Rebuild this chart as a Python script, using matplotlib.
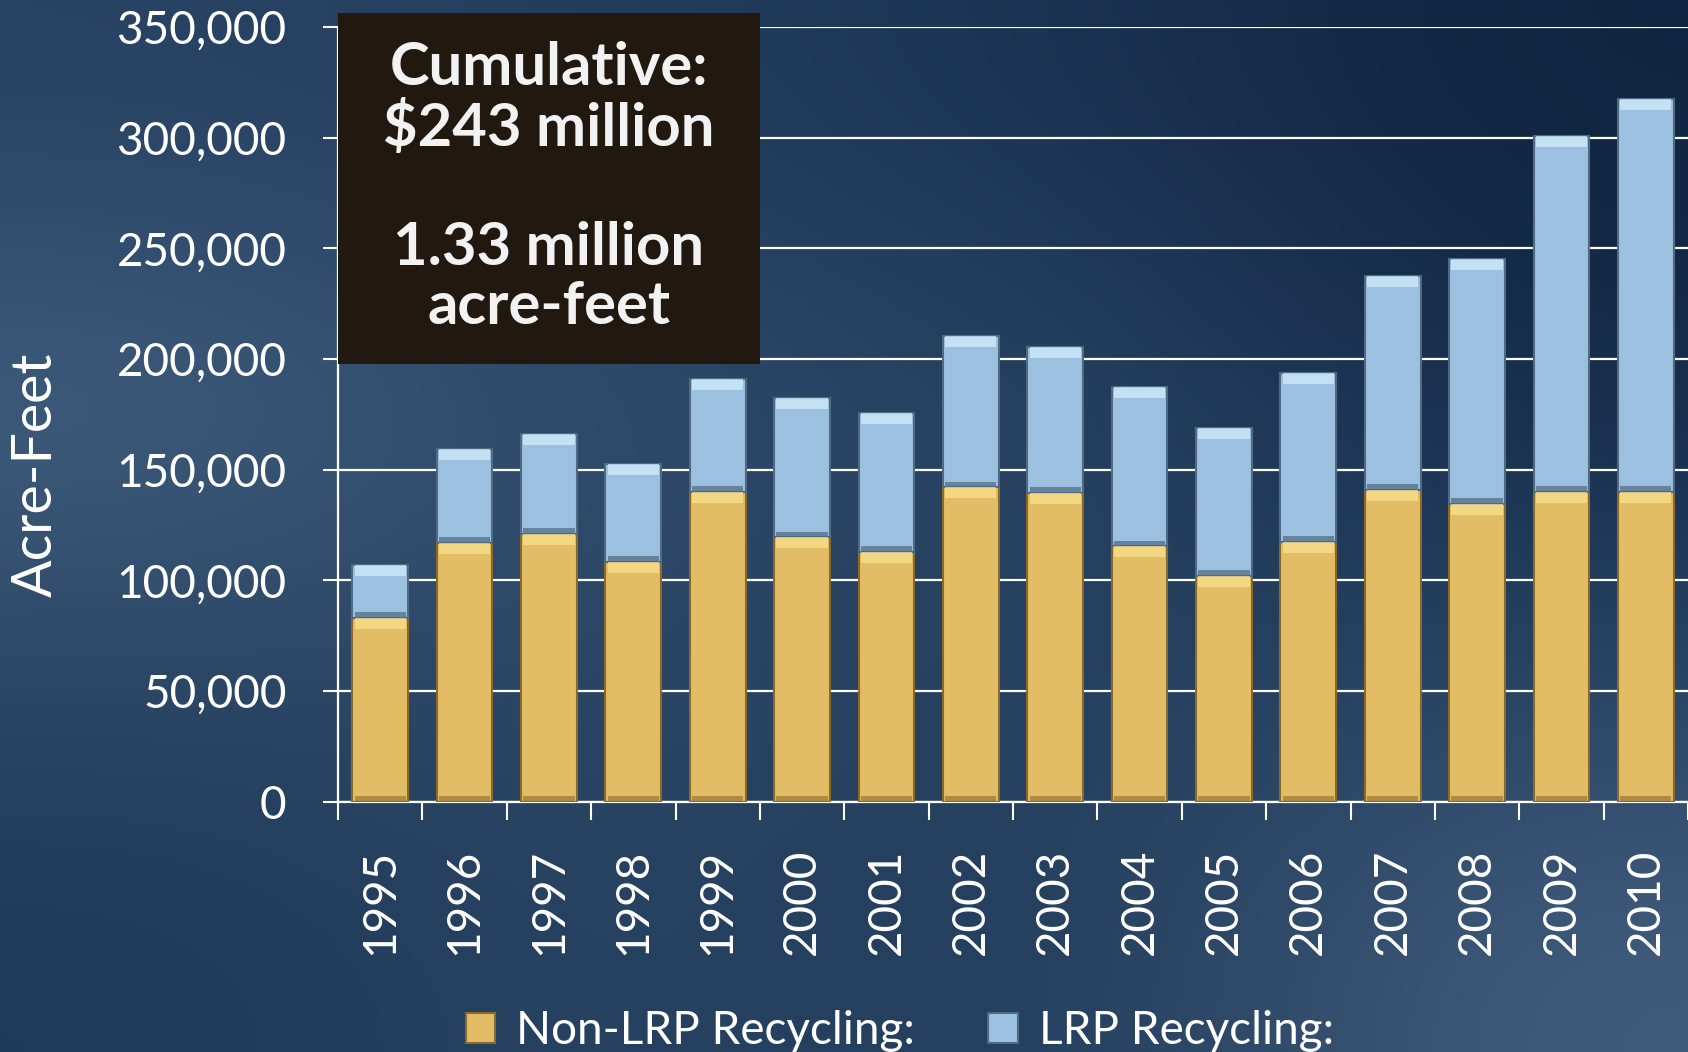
import numpy as np
import matplotlib
matplotlib.use('Agg')
import matplotlib.pyplot as plt
from matplotlib.patches import Rectangle, Patch
from matplotlib.ticker import FuncFormatter, FixedLocator

plt.rcParams['font.family'] = ['Lato', 'DejaVu Sans']

years = ['1995', '1996', '1997', '1998', '1999', '2000', '2001', '2002',
         '2003', '2004', '2005', '2006', '2007', '2008', '2009', '2010']
non_lrp = [83000, 117000, 121000, 108500, 140000, 119500, 113000, 142000,
           139500, 115500, 102000, 117500, 141000, 134500, 140000, 140000]
totals = [107000, 159500, 166000, 152500, 191000, 182500, 175500, 210500,
          205500, 187500, 169000, 193500, 237500, 245000, 300800, 317300]
lrp = [t - n for t, n in zip(totals, non_lrp)]

box_lines = ['Cumulative:', '$243 million', '', '1.33 million', 'acre-feet']
legend_labels = ['Non-LRP Recycling:', 'LRP Recycling:']

gold = '#e3bd65'
gold_hi = '#fbe08e'
gold_dk = '#8a6a2a'
blue = '#9cc0df'
blue_hi = '#d2ecfb'
blue_dk = '#4f6a82'

fig = plt.figure(figsize=(16.88, 10.52), dpi=100)

# background gradient
bg = fig.add_axes([0, 0, 1, 1], zorder=-10)
grid_cols = np.array([
    [[0x27, 0x42, 0x62], [0x22, 0x3c, 0x5c], [0x1a, 0x33, 0x52], [0x0f, 0x25, 0x40]],
    [[0x45, 0x62, 0x82], [0x2c, 0x48, 0x68], [0x2a, 0x45, 0x65], [0x15, 0x2c, 0x4a]],
    [[0x2c, 0x47, 0x66], [0x2c, 0x47, 0x66], [0x24, 0x3d, 0x5c], [0x26, 0x41, 0x61]],
    [[0x1f, 0x39, 0x58], [0x2a, 0x45, 0x64], [0x20, 0x3a, 0x59], [0x42, 0x5d, 0x7d]],
]) / 255.0
bg.imshow(grid_cols, aspect='auto', interpolation='bicubic', extent=[0, 1, 0, 1])
bg.set_axis_off()

ax = fig.add_axes([338 / 1688, 1 - 801.7 / 1052, 1 - 338 / 1688, (801.7 - 27) / 1052])
ax.patch.set_alpha(0)

x = np.arange(len(years))
w = 0.66

# main segments
ax.bar(x, non_lrp, width=w, color=gold, edgecolor=gold_dk, linewidth=1.5, zorder=3)
ax.bar(x, lrp, width=w, bottom=non_lrp, color=blue, edgecolor=blue_dk, linewidth=1.5, zorder=3)

# bevel highlights at the top of each segment, dark band at the bottom
hi = 5000
ax.bar(x, hi, width=w * 0.92, bottom=np.array(non_lrp) - hi, color=gold_hi, linewidth=0, zorder=4, alpha=0.75)
ax.bar(x, hi, width=w * 0.92, bottom=np.array(totals) - hi, color=blue_hi, linewidth=0, zorder=4, alpha=0.75)
ax.bar(x, 2500, width=w * 0.92, bottom=np.array(non_lrp), color=blue_dk, linewidth=0, zorder=4, alpha=0.7)
ax.bar(x, 2500, width=w * 0.92, bottom=0, color=gold_dk, linewidth=0, zorder=4, alpha=0.6)

ax.set_xlim(-0.5, len(years) - 0.5)
ax.set_ylim(0, 350000)

ax.yaxis.set_major_locator(FixedLocator(np.arange(0, 350001, 50000)))
ax.yaxis.set_major_formatter(FuncFormatter(lambda v, p: '{:,.0f}'.format(v)))
ax.grid(axis='y', color='white', linewidth=1.6, zorder=1)
ax.set_axisbelow(True)

ax.set_xticks(x)
ax.set_xticklabels(years, rotation=90, va='top', ha='center')
ax.set_xticks(np.arange(-0.5, len(years), 1.0), minor=True)
ax.tick_params(axis='x', which='major', length=0, pad=34, labelsize=33, labelcolor='white')
ax.tick_params(axis='x', which='minor', length=13, width=1.5, color='white', direction='out')
ax.tick_params(axis='y', length=11, width=1.5, color='white', pad=26, labelsize=33, labelcolor='white')

for s in ['top', 'right']:
    ax.spines[s].set_visible(False)
for s in ['left', 'bottom']:
    ax.spines[s].set_color('white')
    ax.spines[s].set_linewidth(1.6)

fig.text(36 / 1688, 1 - 475 / 1052, 'Acre-Feet', rotation=90, ha='center', va='center',
         fontsize=40, color='white')

# summary box
box = Rectangle((-0.5, 197700), 5.0, 356200 - 197700, facecolor='#211910',
                edgecolor='none', zorder=6, clip_on=False)
ax.add_patch(box)
ax.text(2.0, 277500, '\n'.join(box_lines), ha='center', va='center', fontsize=43,
        fontweight='bold', color='#f2f2f2', linespacing=1.12, zorder=7, clip_on=False)

handles = [Patch(facecolor=gold, edgecolor=gold_dk, linewidth=1.5),
           Patch(facecolor=blue, edgecolor=blue_dk, linewidth=1.5)]
leg = fig.legend(handles, legend_labels, loc='center', bbox_to_anchor=(0.533, 0.02),
                 ncol=2, frameon=False, fontsize=33, handlelength=0.65, handleheight=0.65,
                 handletextpad=0.45, columnspacing=1.6)
for t in leg.get_texts():
    t.set_color('white')

fig.savefig('out.png', dpi=100)
